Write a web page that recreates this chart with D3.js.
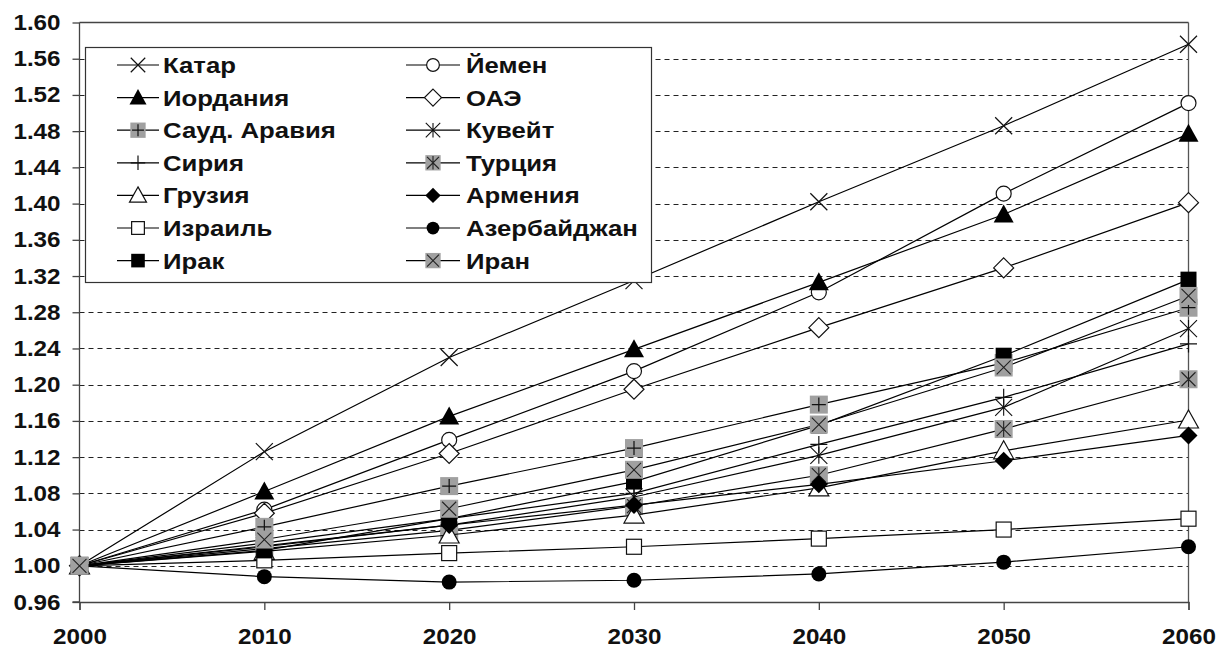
<!DOCTYPE html>
<html><head><meta charset="utf-8">
<script src="https://cdn.jsdelivr.net/npm/d3@7"></script>
<style>
html,body{margin:0;padding:0;background:#fff;}
svg{display:block;font-family:"Liberation Sans",Arial,sans-serif;font-weight:bold;}
</style></head>
<body><svg id="c" width="1225" height="652"></svg>
<script>
const years = [2000, 2010, 2020, 2030, 2040, 2050, 2060];
const yTicks = [0.96,1.00,1.04,1.08,1.12,1.16,1.20,1.24,1.28,1.32,1.36,1.40,1.44,1.48,1.52,1.56,1.60];

const qatar      = [1.000, 1.126, 1.230, 1.315, 1.402, 1.486, 1.576];
const yemen      = [1.000, 1.062, 1.139, 1.215, 1.302, 1.411, 1.511];
const jordan     = [1.000, 1.082, 1.165, 1.239, 1.313, 1.388, 1.477];
const uae        = [1.000, 1.058, 1.124, 1.195, 1.263, 1.329, 1.401];
const saudi      = [1.000, 1.043, 1.088, 1.130, 1.178, 1.224, 1.285];
const kuwait     = [1.000, 1.022, 1.045, 1.076, 1.122, 1.175, 1.262];
const syria      = [1.000, 1.025, 1.052, 1.080, 1.134, 1.186, 1.245];
const turkey     = [1.000, 1.019, 1.039, 1.066, 1.100, 1.151, 1.206];
const georgia    = [1.000, 1.016, 1.034, 1.056, 1.086, 1.127, 1.161];
const armenia    = [1.000, 1.021, 1.045, 1.067, 1.090, 1.116, 1.144];
const israel     = [1.000, 1.006, 1.014, 1.021, 1.030, 1.040, 1.052];
const azerbaijan = [1.000, 0.988, 0.982, 0.984, 0.991, 1.004, 1.021];
const iraq       = [1.000, 1.017, 1.052, 1.093, 1.155, 1.232, 1.316];
const iran       = [1.000, 1.029, 1.063, 1.106, 1.156, 1.219, 1.298];

const names   = ["Катар","Йемен","Иордания","ОАЭ","Сауд. Аравия","Кувейт","Сирия","Турция","Грузия","Армения","Израиль","Азербайджан","Ирак","Иран"];
const markers = ["x","circleO","triF","diamO","sqPlus","star","plus","sqStar","triO","diamF","sqO","circleF","sqF","sqX"];
const seriesValues = [qatar,yemen,jordan,uae,saudi,kuwait,syria,turkey,georgia,armenia,israel,azerbaijan,iraq,iran];

const series = names.map((n,i)=>({name:n, marker:markers[i], values:seriesValues[i]}));

const svg = d3.select("#c");
const x = d3.scaleLinear().domain([2000,2060]).range([79.5,1188.5]);
const y = d3.scaleLinear().domain([0.96,1.60]).range([602,22.5]);
const GRAY = "#a0a0a0";

// gridlines
svg.append("g").selectAll("line").data(yTicks.filter(t=>t>0.97 && t<1.59)).join("line")
  .attr("x1",x(2000)).attr("x2",x(2060))
  .attr("y1",d=>Math.round(y(d))+0.5).attr("y2",d=>Math.round(y(d))+0.5)
  .attr("stroke","#222").attr("stroke-width",1).attr("stroke-dasharray","5,4");
svg.append("line").attr("x1",x(2000)).attr("x2",x(2060)).attr("y1",y(1.60)).attr("y2",y(1.60)).attr("stroke","#444").attr("stroke-width",1.3);
svg.append("line").attr("x1",x(2060)).attr("x2",x(2060)).attr("y1",y(1.60)).attr("y2",y(0.96)).attr("stroke","#555").attr("stroke-width",1.3);

// axes
const yAxis = d3.axisLeft(y).tickValues(yTicks).tickFormat(d3.format(".2f")).tickSize(7).tickPadding(12);
const gy = svg.append("g").attr("transform",`translate(${x(2000)},0)`).call(yAxis);
const xAxis = d3.axisBottom(x).tickValues(years).tickFormat(d3.format("d")).tickSize(8).tickPadding(18);
const gx = svg.append("g").attr("transform",`translate(0,${y(0.96)})`).call(xAxis);
[gy,gx].forEach(g=>{
  g.attr("font-size",null).attr("font-family",null);
  g.selectAll(".domain").attr("stroke","#444").attr("stroke-width",1.3);
  g.selectAll(".tick line").attr("stroke","#444").attr("stroke-width",1.3);
  g.selectAll("text").attr("fill","#111").style("font-weight","bold")
    .style("font-family","'Liberation Sans',Arial,sans-serif").style("font-size","22px");
});
gy.selectAll("text").attr("x",-19/1.1).attr("transform","scale(1.1,1)");
gx.selectAll("text").attr("transform","scale(1.1,1)").attr("x",0);
gy.select(".domain").attr("d",`M-7,${y(0.96)}H0V${y(1.60)}`);

function drawMarker(g, type, k){
  k = k || 1;
  const s = 8.5*k;
  switch(type){
    case "x":
      g.append("path").attr("d",`M${-s},${-s}L${s},${s}M${-s},${s}L${s},${-s}`).attr("stroke","#111").attr("stroke-width",1.2).attr("fill","none"); break;
    case "plus":
      g.append("path").attr("d",`M${-s},0L${s},0M0,${-s}L0,${s}`).attr("stroke","#111").attr("stroke-width",1.2).attr("fill","none"); break;
    case "star":
      g.append("path").attr("d",`M${-s},${-s}L${s},${s}M${-s},${s}L${s},${-s}M0,${-s}L0,${s}`).attr("stroke","#111").attr("stroke-width",1.1).attr("fill","none"); break;
    case "circleO":
      g.append("circle").attr("r",7.5*k).attr("fill","#fff").attr("stroke","#111").attr("stroke-width",1.2); break;
    case "circleF":
      g.append("circle").attr("r",7.5*k).attr("fill","#000"); break;
    case "triF":
      g.append("path").attr("d",`M0,${-10*k}L${10*k},${8*k}L${-10*k},${8*k}Z`).attr("fill","#000"); break;
    case "triO":
      g.append("path").attr("d",`M0,${-10*k}L${10*k},${8*k}L${-10*k},${8*k}Z`).attr("fill","#fff").attr("stroke","#111").attr("stroke-width",1.2); break;
    case "diamO":
      g.append("path").attr("d",`M0,${-10*k}L${10*k},0L0,${10*k}L${-10*k},0Z`).attr("fill","#fff").attr("stroke","#111").attr("stroke-width",1.2); break;
    case "diamF":
      g.append("path").attr("d",`M0,${-9*k}L${9*k},0L0,${9*k}L${-9*k},0Z`).attr("fill","#000"); break;
    case "sqO":
      g.append("rect").attr("x",-7.5*k).attr("y",-7.5*k).attr("width",15*k).attr("height",15*k).attr("fill","#fff").attr("stroke","#111").attr("stroke-width",1.2); break;
    case "sqF":
      g.append("rect").attr("x",-8*k).attr("y",-8*k).attr("width",16*k).attr("height",16*k).attr("fill","#000"); break;
    case "sqPlus":
      g.append("rect").attr("x",-9*k).attr("y",-9*k).attr("width",18*k).attr("height",18*k).attr("fill",GRAY);
      g.append("path").attr("d",`M${-7*k},0L${7*k},0M0,${-7*k}L0,${7*k}`).attr("stroke","#111").attr("stroke-width",1.2); break;
    case "sqX":
      g.append("rect").attr("x",-9*k).attr("y",-9*k).attr("width",18*k).attr("height",18*k).attr("fill",GRAY);
      g.append("path").attr("d",`M${-7*k},${-7*k}L${7*k},${7*k}M${-7*k},${7*k}L${7*k},${-7*k}`).attr("stroke","#222").attr("stroke-width",1.1); break;
    case "sqStar":
      g.append("rect").attr("x",-9*k).attr("y",-9*k).attr("width",18*k).attr("height",18*k).attr("fill",GRAY);
      g.append("path").attr("d",`M${-7*k},${-7*k}L${7*k},${7*k}M${-7*k},${7*k}L${7*k},${-7*k}M0,${-8*k}L0,${8*k}`).attr("stroke","#222").attr("stroke-width",1.1); break;
  }
}

const line = d3.line().x((d,i)=>x(years[i])).y(d=>y(d));
const plot = svg.append("g");
series.forEach(s=>{
  const g = plot.append("g");
  g.append("path").attr("d",line(s.values)).attr("fill","none").attr("stroke","#000").attr("stroke-width",1.2);
  s.values.forEach((v,i)=>{
    const m = g.append("g").attr("transform",`translate(${x(years[i])},${y(v)})`);
    drawMarker(m, s.marker);
  });
});

// legend
const lg = svg.append("g");
lg.append("rect").attr("x",85.5).attr("y",47.5).attr("width",566).attr("height",235).attr("fill","#fff").attr("stroke","#333").attr("stroke-width",1.2);
const colX = [117, 406];
const rowY0 = 65, rowDy = 32.6;
series.forEach((s,i)=>{
  const col = i%2, row = Math.floor(i/2);
  const lx = colX[col], cy = rowY0 + row*rowDy;
  const g = lg.append("g");
  g.append("line").attr("x1",lx).attr("x2",lx+(col?54:42)).attr("y1",cy).attr("y2",cy).attr("stroke","#000").attr("stroke-width",1.2);
  const m = g.append("g").attr("transform",`translate(${lx+(col?27:21)},${cy})`);
  drawMarker(m, s.marker, 0.85);
  g.append("text").attr("transform",`translate(${col?466:163},${cy}) scale(1.17,1)`).attr("dy","0.36em").text(s.name)
    .style("font-size","22px").attr("fill","#111");
});
</script></body></html>
